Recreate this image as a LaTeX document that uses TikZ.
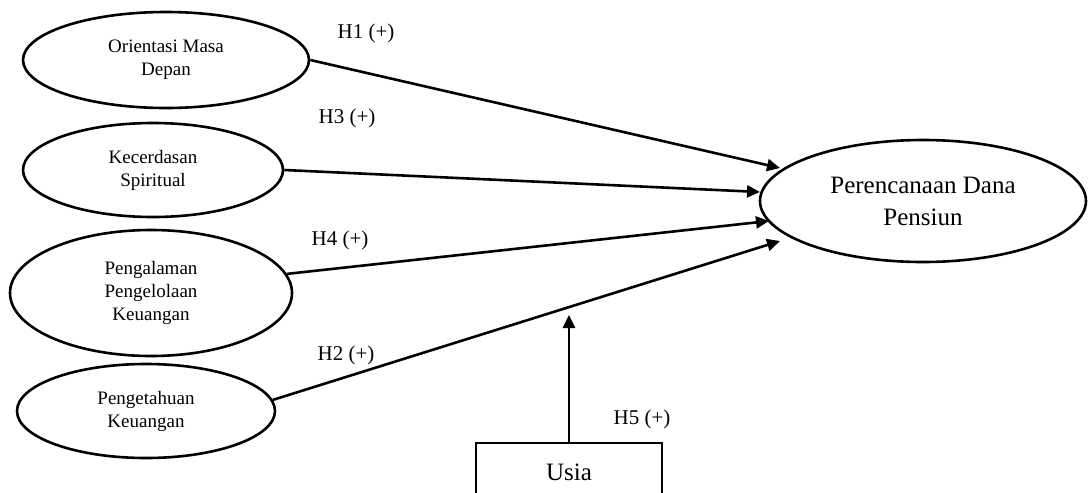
\documentclass[tikz,border=0pt]{standalone}
\usepackage{fontspec}
\setmainfont{Liberation Serif}
\usetikzlibrary{arrows.meta,shapes.geometric}
\begin{document}
\begin{tikzpicture}[x=1pt,y=-1pt,line width=2.6pt,
  var/.style={ellipse,draw,inner sep=0pt,align=center,font=\fontsize{19}{23}\selectfont},
  hyp/.style={inner sep=0pt,font=\fontsize{21}{25}\selectfont},
  arr/.style={-{Triangle[length=13pt,width=12pt]}}]
\useasboundingbox (0,0) rectangle (1088,493);
\clip (0,0) rectangle (1088,493);
\node[var,minimum width=286pt,minimum height=96pt] (e1) at (166,60) {Orientasi Masa\\Depan};
\node[var,minimum width=260pt,minimum height=94pt] (e2) at (153,170) {Kecerdasan\\Spiritual};
\node[var,minimum width=282pt,minimum height=126pt] (e3) at (151,293) {Pengalaman\\Pengelolaan\\Keuangan};
\node[var,minimum width=258pt,minimum height=94pt] (e4) at (146,411) {Pengetahuan\\Keuangan};
\node[var,minimum width=326pt,minimum height=122pt,font=\fontsize{25}{32}\selectfont] (y) at (923,201) {Perencanaan Dana\\Pensiun};
\node[draw,rectangle,minimum width=186pt,minimum height=58pt,inner sep=0pt,font=\fontsize{25}{30}\selectfont] (usia) at (569,472) {Usia};
\coordinate (t1) at (780,168);
\coordinate (t3) at (760,192);
\coordinate (t4) at (769,221);
\coordinate (t2) at (780,241);
\coordinate (m) at (569,315);
\draw[arr] (e1.east) -- (t1);
\draw[arr] (e2.east) -- (t3);
\draw[arr] (e3.8) -- (t4);
\draw[arr] (e4.5) -- (t2);
\draw[arr] (usia.north) -- (m);
\node[hyp] (h1) at (366,33) {H1 (+)};
\node[hyp] (h3) at (347,118) {H3 (+)};
\node[hyp] (h4) at (340,240) {H4 (+)};
\node[hyp] (h2) at (346,355) {H2 (+)};
\node[hyp] (h5) at (642,419) {H5 (+)};
\end{tikzpicture}
\end{document}
